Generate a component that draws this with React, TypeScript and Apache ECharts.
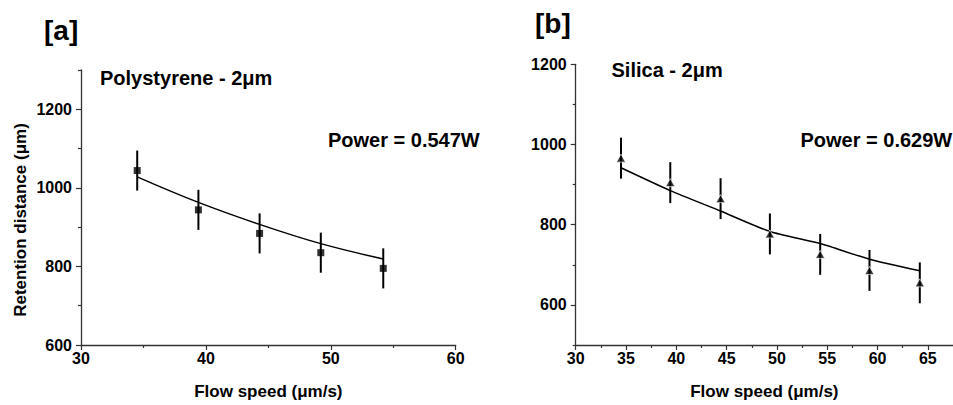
import React, { useEffect, useRef } from "react";
import * as echarts from "echarts";

// Panel [a] — Polystyrene 2 µm
const xA = [34.5, 39.4, 44.3, 49.2, 54.2];
const yA = [1044, 944, 884, 835, 795];
const errA = [51, 51, 51, 51, 51];
const fitA = [1028, 963, 907, 858, 819];

// Panel [b] — Silica 2 µm
const xB = [34.5, 39.4, 44.4, 49.3, 54.3, 59.2, 64.2];
const yB = [966, 905, 865, 777, 726, 686, 655];
const errB = [51, 51, 51, 51, 51, 51, 51];
const fitB = [942, 885, 834, 783, 753, 714, 685];

// Tick values
const xMajorA = [30, 40, 50, 60];
const xMinorA = [35, 45, 55];
const yMajorA = [600, 800, 1000, 1200];
const yMinorA = [700, 900, 1100, 1300];
const xMajorB = [30, 35, 40, 45, 50, 55, 60, 65];
const xMinorB = [32.5, 37.5, 42.5, 47.5, 52.5, 57.5, 62.5];
const yMajorB = [600, 800, 1000, 1200];
const yMinorB = [500, 700, 900, 1100];

const FONT = "Liberation Sans, Arial, sans-serif";
const AX = "#333";
const plain = (v: number) => String(v);

function mainX(grid: number, min: number, max: number, major: number[], name: string) {
  return {
    type: "value",
    gridIndex: grid,
    position: "bottom",
    min,
    max,
    name,
    nameLocation: "middle",
    nameGap: 38,
    nameTextStyle: { fontFamily: FONT, fontWeight: "bold", fontSize: 17, color: "#000" },
    axisLine: { show: true, onZero: false, lineStyle: { color: AX, width: 1.3 } },
    axisTick: { show: true, inside: false, length: 5, customValues: major, lineStyle: { color: AX, width: 1.2 } },
    axisLabel: { show: true, customValues: major, formatter: plain, margin: 5, fontFamily: FONT, fontWeight: "bold", fontSize: 16, color: "#000" },
    splitLine: { show: false },
  };
}
function minorX(grid: number, min: number, max: number, minor: number[]) {
  return {
    type: "value",
    gridIndex: grid,
    position: "bottom",
    min,
    max,
    axisLine: { show: false, onZero: false },
    axisTick: { show: true, inside: false, length: 3, customValues: minor, lineStyle: { color: AX, width: 1.2 } },
    axisLabel: { show: false },
    splitLine: { show: false },
  };
}
function mainY(grid: number, min: number, max: number, major: number[]) {
  return {
    type: "value",
    gridIndex: grid,
    position: "left",
    min,
    max,
    axisLine: { show: true, onZero: false, lineStyle: { color: AX, width: 1.3 } },
    axisTick: { show: true, inside: false, length: 5, customValues: major, lineStyle: { color: AX, width: 1.2 } },
    axisLabel: { show: true, customValues: major, formatter: plain, margin: 9, fontFamily: FONT, fontWeight: "bold", fontSize: 16, color: "#000" },
    splitLine: { show: false },
  };
}
function minorY(grid: number, min: number, max: number, minor: number[]) {
  return {
    type: "value",
    gridIndex: grid,
    position: "left",
    min,
    max,
    axisLine: { show: false, onZero: false },
    axisTick: { show: true, inside: false, length: 3, customValues: minor, lineStyle: { color: AX, width: 1.2 } },
    axisLabel: { show: false },
    splitLine: { show: false },
  };
}

const errorRender = (params: any, api: any) => {
  const x = api.value(0);
  const y = api.value(1);
  const e = api.value(2);
  const p1 = api.coord([x, y + e]);
  const p2 = api.coord([x, y - e]);
  return {
    type: "line",
    shape: { x1: p1[0], y1: p1[1], x2: p2[0], y2: p2[1] },
    style: { stroke: "#000", lineWidth: 2 },
  };
};

export default function App() {
  const ref = useRef<HTMLDivElement>(null);
  useEffect(() => {
    if (!ref.current) return;
    const chart = echarts.init(ref.current, null, { renderer: "svg" });
    const textStyle = (text: string, size: number) => ({
      text,
      font: `bold ${size}px ${FONT}`,
      fill: "#000",
      align: "left",
      verticalAlign: "middle",
    });
    chart.setOption({
      animation: false,
      backgroundColor: "#fff",
      grid: [
        { left: 81, top: 70, width: 374.7, height: 276.7 },
        { left: 575.7, top: 64.3, width: 386.7, height: 286.4 },
      ],
      xAxis: [
        mainX(0, 30, 60, xMajorA, "Flow speed (μm/s)"),
        minorX(0, 30, 60, xMinorA),
        mainX(1, 30, 67.5, xMajorB, "Flow speed (μm/s)"),
        minorX(1, 30, 67.5, xMinorB),
      ],
      yAxis: [
        mainY(0, 600, 1300, yMajorA),
        minorY(0, 600, 1300, yMinorA),
        mainY(1, 500, 1200, yMajorB),
        minorY(1, 500, 1200, yMinorB),
      ],
      graphic: [
        { type: "text", x: 44, y: 30.5, style: textStyle("[a]", 28) },
        { type: "text", x: 535, y: 23, style: textStyle("[b]", 28) },
        { type: "text", x: 100, y: 78, style: textStyle("Polystyrene - 2μm", 20) },
        { type: "text", x: 328, y: 139.5, style: textStyle("Power = 0.547W", 20) },
        { type: "text", x: 611.5, y: 70, style: textStyle("Silica - 2μm", 20) },
        { type: "text", x: 800.5, y: 140, style: textStyle("Power = 0.629W", 20) },
        {
          type: "text",
          x: 20,
          y: 220,
          rotation: Math.PI / 2,
          style: { ...textStyle("Retention distance (μm)", 17), align: "center" },
        },
      ],
      series: [
        {
          type: "custom",
          xAxisIndex: 0,
          yAxisIndex: 0,
          renderItem: errorRender,
          data: xA.map((x, i) => [x, yA[i], errA[i]]),
          encode: { x: 0, y: 1 },
          z: 2,
        },
        {
          type: "line",
          xAxisIndex: 0,
          yAxisIndex: 0,
          data: xA.map((x, i) => [x, fitA[i]]),
          smooth: 0.4,
          showSymbol: false,
          symbol: "none",
          lineStyle: { color: "#000", width: 1.5 },
          z: 3,
        },
        {
          type: "scatter",
          xAxisIndex: 0,
          yAxisIndex: 0,
          data: xA.map((x, i) => [x, yA[i]]),
          symbol: "rect",
          symbolSize: 7,
          itemStyle: { color: "#000" },
          z: 4,
        },
        {
          type: "custom",
          xAxisIndex: 2,
          yAxisIndex: 2,
          renderItem: errorRender,
          data: xB.map((x, i) => [x, yB[i], errB[i]]),
          encode: { x: 0, y: 1 },
          z: 2,
        },
        {
          type: "line",
          xAxisIndex: 2,
          yAxisIndex: 2,
          data: xB.map((x, i) => [x, fitB[i]]),
          smooth: 0.2,
          showSymbol: false,
          symbol: "none",
          lineStyle: { color: "#000", width: 1.5 },
          z: 3,
        },
        {
          type: "scatter",
          xAxisIndex: 2,
          yAxisIndex: 2,
          data: xB.map((x, i) => [x, yB[i]]),
          symbol: "triangle",
          symbolSize: [9, 8],
          itemStyle: { color: "#000", borderColor: "#fff", borderWidth: 0.8 },
          z: 4,
        },
      ],
    });
    return () => chart.dispose();
  }, []);
  return (
    <div
      ref={ref}
      style={{ position: "absolute", left: 0, top: 0, width: 953, height: 405, background: "#fff" }}
    />
  );
}
